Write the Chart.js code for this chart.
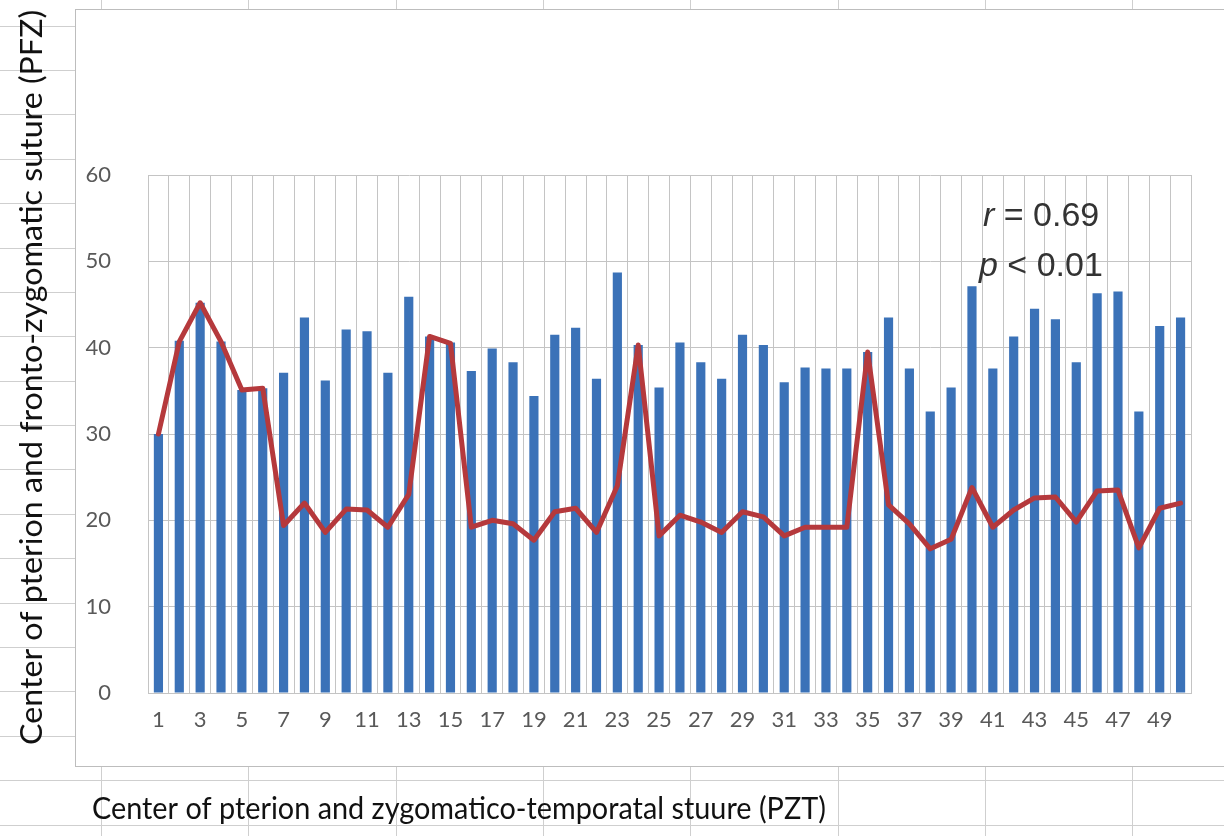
<!DOCTYPE html>
<html>
<head>
<meta charset="utf-8">
<script src="https://cdn.jsdelivr.net/npm/chart.js@4"></script>
<style>
  html, body { margin: 0; padding: 0; background: #fff; }
  canvas { display: block; }
</style>
</head>
<body>
<canvas id="chart" width="1224" height="836"></canvas>
<script>
// --- Data ---
const categories = Array.from({ length: 50 }, (_, i) => String(i + 1));

const barValues = [
  30.0, 40.8, 45.2, 40.7, 35.1, 35.3, 37.1, 43.5, 36.2, 42.1,
  41.9, 37.1, 45.9, 41.3, 40.6, 37.3, 39.9, 38.3, 34.4, 41.5,
  42.3, 36.4, 48.7, 40.3, 35.4, 40.6, 38.3, 36.4, 41.5, 40.3,
  36.0, 37.7, 37.6, 37.6, 39.5, 43.5, 37.6, 32.6, 35.4, 47.1,
  37.6, 41.3, 44.5, 43.3, 38.3, 46.3, 46.5, 32.6, 42.5, 43.5
];

const lineValues = [
  30.0, 40.7, 45.2, 40.7, 35.1, 35.3, 19.4, 22.0, 18.6, 21.3,
  21.2, 19.2, 23.0, 41.3, 40.5, 19.2, 20.0, 19.6, 17.7, 21.0,
  21.4, 18.6, 24.0, 40.3, 18.2, 20.6, 19.8, 18.6, 21.0, 20.4,
  18.2, 19.2, 19.2, 19.2, 39.5, 21.8, 19.6, 16.7, 17.8, 23.8,
  19.2, 21.2, 22.6, 22.7, 19.8, 23.4, 23.5, 16.8, 21.4, 22.0
];

const yTicks = [0, 10, 20, 30, 40, 50, 60];
const xTitle = 'Center of pterion and zygomatico-temporatal stuure (PZT)';
const yTitle = 'Center of pterion and fronto-zygomatic suture (PFZ)';

const TICK_FONT = { family: 'Lato, "Open Sans", sans-serif', size: 22 };
const GRID = '#c4c4c4';
const SHEET_LINE = '#cfcfcf';

// draw text squeezed/stretched to a given width
function fitText(ctx, text, x, y, width, font) {
  ctx.save();
  ctx.font = font;
  const w = ctx.measureText(text).width;
  ctx.translate(x, y);
  ctx.scale(width / w, 1);
  ctx.fillText(text, 0, 0);
  ctx.restore();
}

// spreadsheet background + chart frame
const sheetPlugin = {
  id: 'sheet',
  beforeDraw(chart) {
    const ctx = chart.ctx;
    const W = chart.width, H = chart.height;
    ctx.save();
    ctx.fillStyle = '#fff';
    ctx.fillRect(0, 0, W, H);
    ctx.strokeStyle = SHEET_LINE;
    ctx.lineWidth = 1;
    for (let x = 101; x < W; x += 147.3) {
      ctx.beginPath();
      ctx.moveTo(Math.round(x) + 0.5, 0);
      ctx.lineTo(Math.round(x) + 0.5, H);
      ctx.stroke();
    }
    for (let y = 25.5; y < H; y += 44.4) {
      ctx.beginPath();
      ctx.moveTo(0, Math.round(y) + 0.5);
      ctx.lineTo(W, Math.round(y) + 0.5);
      ctx.stroke();
    }
    // chart object box
    ctx.fillStyle = '#fff';
    ctx.fillRect(75.5, 9.5, W, 757);
    ctx.strokeStyle = '#bdbdbd';
    ctx.strokeRect(75.5, 9.5, W, 757);
    ctx.restore();
  },
  afterDraw(chart) {
    const ctx = chart.ctx;
    ctx.save();
    ctx.fillStyle = '#111';
    ctx.textBaseline = 'alphabetic';
    ctx.textAlign = 'left';
    // x axis title
    fitText(ctx, xTitle, 92, 819, 734, '30px Lato, "Open Sans", sans-serif');
    // y axis title (rotated)
    ctx.save();
    ctx.translate(42, 745);
    ctx.rotate(-Math.PI / 2);
    fitText(ctx, yTitle, 0, 0, 735, '31px Lato, "Open Sans", sans-serif');
    ctx.restore();

    // correlation annotation
    ctx.fillStyle = '#333';
    const f = '34px "Liberation Sans", Arial, sans-serif';
    ctx.font = 'italic ' + f;
    ctx.fillText('r', 983, 226);
    let w = ctx.measureText('r').width;
    ctx.font = f;
    ctx.fillText(' = 0.69', 983 + w, 226);
    ctx.font = 'italic ' + f;
    ctx.fillText('p', 979, 276);
    w = ctx.measureText('p').width;
    ctx.font = f;
    ctx.fillText(' < 0.01', 979 + w, 276);
    ctx.restore();
  }
};

const ctx = document.getElementById('chart').getContext('2d');

new Chart(ctx, {
  type: 'bar',
  data: {
    labels: categories,
    datasets: [
      {
        type: 'line',
        label: 'line',
        data: lineValues,
        borderColor: '#b5393c',
        borderWidth: 5,
        borderJoinStyle: 'round',
        borderCapStyle: 'round',
        pointRadius: 0,
        tension: 0,
        fill: false,
        order: 0
      },
      {
        label: 'bars',
        data: barValues,
        backgroundColor: '#3b72b8',
        barPercentage: 0.44,
        categoryPercentage: 1.0,
        order: 1
      }
    ]
  },
  options: {
    responsive: false,
    animation: false,
    layout: { padding: { left: 0, right: 33, top: 175, bottom: 0 } },
    plugins: {
      legend: { display: false },
      tooltip: { enabled: false }
    },
    scales: {
      x: {
        offset: true,
        grid: { color: GRID, offset: true, drawTicks: false },
        border: { color: GRID },
        ticks: {
          autoSkip: false,
          maxRotation: 0,
          padding: 14,
          color: '#595959',
          font: TICK_FONT,
          callback: (v, i) => (i % 2 === 0 ? categories[i] : '')
        },
        afterFit: (scale) => { scale.height = 143; }
      },
      y: {
        min: yTicks[0],
        max: yTicks[yTicks.length - 1],
        grid: { color: GRID, drawTicks: false },
        border: { color: GRID },
        afterBuildTicks: (scale) => { scale.ticks = yTicks.map(v => ({ value: v })); },
        ticks: {
          padding: 37,
          color: '#595959',
          font: TICK_FONT
        },
        afterFit: (scale) => { scale.width = 148; }
      }
    }
  },
  plugins: [sheetPlugin]
});
</script>
</body>
</html>
